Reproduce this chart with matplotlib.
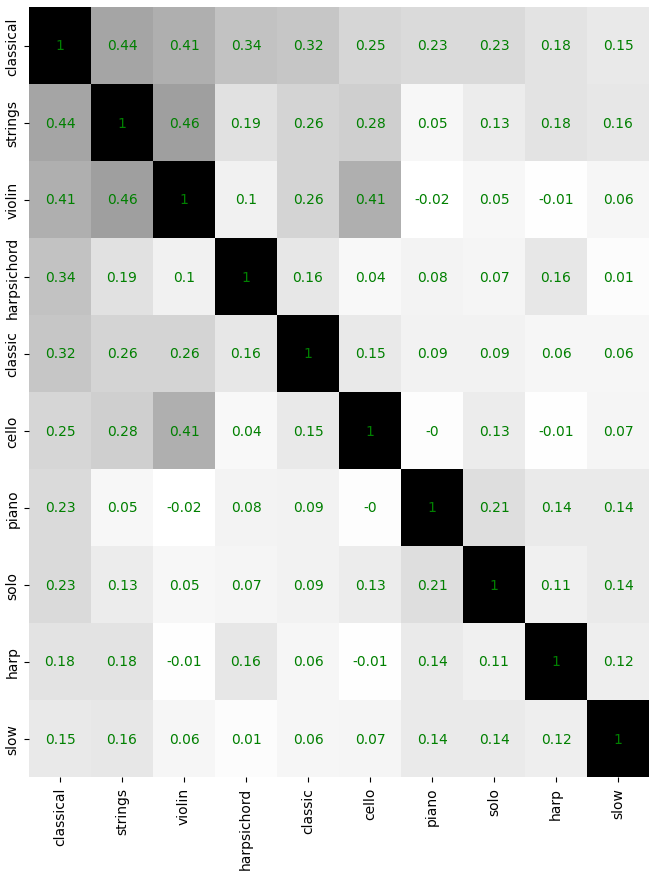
import numpy as np
import matplotlib
matplotlib.use('Agg')
import matplotlib.pyplot as plt

TAGS = ['classical', 'strings', 'violin', 'harpsichord', 'classic',
        'cello', 'piano', 'solo', 'harp', 'slow']

classical   = [1, 0.44, 0.41, 0.34, 0.32, 0.25, 0.23, 0.23, 0.18, 0.15]
strings     = [0.44, 1, 0.46, 0.19, 0.26, 0.28, 0.05, 0.13, 0.18, 0.16]
violin      = [0.41, 0.46, 1, 0.1, 0.26, 0.41, -0.02, 0.05, -0.01, 0.06]
harpsichord = [0.34, 0.19, 0.1, 1, 0.16, 0.04, 0.08, 0.07, 0.16, 0.01]
classic     = [0.32, 0.26, 0.26, 0.16, 1, 0.15, 0.09, 0.09, 0.06, 0.06]
cello       = [0.25, 0.28, 0.41, 0.04, 0.15, 1, -0.0, 0.13, -0.01, 0.07]
piano       = [0.23, 0.05, -0.02, 0.08, 0.09, -0.0, 1, 0.21, 0.14, 0.14]
solo        = [0.23, 0.13, 0.05, 0.07, 0.09, 0.13, 0.21, 1, 0.11, 0.14]
harp        = [0.18, 0.18, -0.01, 0.16, 0.06, -0.01, 0.14, 0.11, 1, 0.12]
slow        = [0.15, 0.16, 0.06, 0.01, 0.06, 0.07, 0.14, 0.14, 0.12, 1]

M = np.array([classical, strings, violin, harpsichord, classic,
              cello, piano, solo, harp, slow], dtype=float)
n = len(TAGS)

fig = plt.figure(figsize=(6.57, 8.78), dpi=100)
ax = fig.add_axes([29/657, 1-778/878, 620/657, 770/878])
ax.pcolormesh(np.arange(n+1), np.arange(n+1), M, cmap='Greys',
              vmin=M.min(), vmax=M.max())
ax.set_xlim(0, n); ax.set_ylim(n, 0)
for i in range(n):
    for j in range(n):
        ax.text(j+0.5, i+0.5, f'{M[i, j]:g}', ha='center', va='center',
                color='green', fontsize=10)
ax.set_xticks(np.arange(n)+0.5)
ax.set_xticklabels(TAGS, rotation=90, fontsize=10)
ax.set_yticks(np.arange(n)+0.5)
ax.set_yticklabels(TAGS, rotation=90, va='center', fontsize=10)
for s in ax.spines.values():
    s.set_visible(False)
fig.savefig('out.png', dpi=100)
